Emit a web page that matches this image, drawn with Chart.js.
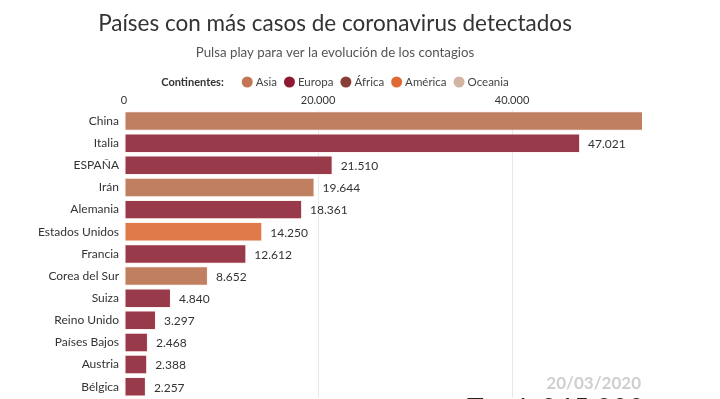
<!DOCTYPE html>
<html>
<head>
<meta charset="utf-8">
<script src="https://cdn.jsdelivr.net/npm/chart.js@4/dist/chart.umd.min.js"></script>
<style>
  html, body { margin: 0; padding: 0; background: #fff; overflow: hidden; }
  #wrap { width: 720px; height: 399px; position: relative; overflow: hidden; }
</style>
</head>
<body>
<div id="wrap"><canvas id="c" width="720" height="410"></canvas></div>
<script>
const countries = ["China", "Italia", "ESPAÑA", "Irán", "Alemania", "Estados Unidos", "Francia", "Corea del Sur", "Suiza", "Reino Unido", "Países Bajos", "Austria", "Bélgica"];
const cases = [80967, 47021, 21510, 19644, 18361, 14250, 12612, 8652, 4840, 3297, 2468, 2388, 2257];
const continentOf = ["Asia", "Europa", "Europa", "Asia", "Europa", "América", "Europa", "Asia", "Europa", "Europa", "Europa", "Europa", "Europa"];
const continents = ["Asia", "Europa", "África", "América", "Oceania"];
const legendColors = ["#c27655", "#8c1a30", "#8a3f36", "#e06a35", "#d2b4a3"];
const barColors = { "Asia": "#c17f62", "Europa": "#993a4a", "África": "#8e4a40", "América": "#e07a4a", "Oceania": "#d2b4a3" };
const xTicks = [0, 20000, 40000];
const titleText = "Países con más casos de coronavirus detectados";
const subtitleText = "Pulsa play para ver la evolución de los contagios";
const dateText = "20/03/2020";
const totalText = "Total: 265.200";

const FONT = "Lato, 'Liberation Sans', sans-serif";
function fmt(n) { return String(Math.round(n)).replace(/\B(?=(\d{3})+(?!\d))/g, "."); }

const headerPlugin = {
  id: 'header',
  afterDraw(chart) {
    const ctx = chart.ctx;
    const cx = 335;
    ctx.save();
    ctx.textAlign = 'center';
    ctx.textBaseline = 'alphabetic';
    ctx.fillStyle = '#333';
    ctx.font = "22.5px " + FONT;
    ctx.fillText(titleText, cx, 31);
    ctx.fillStyle = '#555';
    ctx.font = "13.3px " + FONT;
    ctx.fillText(subtitleText, cx, 57);

    // legend
    ctx.font = "bold 11px " + FONT;
    const lab = "Continentes:";
    ctx.textAlign = 'left';
    ctx.textBaseline = 'middle';
    const r = 5.5;
    let widths = [ctx.measureText(lab).width];
    ctx.font = "11.5px " + FONT;
    continents.forEach(c => widths.push(ctx.measureText(c).width));
    let total = widths[0] + 18;
    continents.forEach((c, i) => { total += 2 * r + 3 + widths[i + 1] + (i < continents.length - 1 ? 7 : 0); });
    let x = cx - total / 2;
    const ly = 82;
    ctx.font = "bold 11px " + FONT;
    ctx.fillStyle = '#333';
    ctx.fillText(lab, x, ly);
    x += widths[0] + 18;
    ctx.font = "11.5px " + FONT;
    continents.forEach((c, i) => {
      ctx.beginPath();
      ctx.fillStyle = legendColors[i];
      ctx.arc(x + r, ly, r, 0, Math.PI * 2);
      ctx.fill();
      x += 2 * r + 3;
      ctx.fillStyle = '#444';
      ctx.fillText(c, x, ly);
      x += widths[i + 1] + 7;
    });

    // value labels
    const meta = chart.getDatasetMeta(0);
    ctx.font = "12px " + FONT;
    ctx.fillStyle = '#333';
    ctx.textAlign = 'left';
    ctx.textBaseline = 'middle';
    meta.data.forEach((bar, i) => {
      if (cases[i] > chart.scales.x.max) return;
      ctx.fillText(fmt(cases[i]), bar.x + 8, bar.y + 1);
    });

    // date and total
    ctx.textAlign = 'right';
    ctx.textBaseline = 'alphabetic';
    ctx.font = "bold 17px " + FONT;
    ctx.fillStyle = '#cfcfcf';
    ctx.fillText(dateText, 641, 389);
    ctx.textAlign = 'left';
    ctx.font = "28px " + FONT;
    ctx.fillStyle = '#222';
    ctx.fillText(totalText, 467, 419);
    ctx.restore();
  }
};

new Chart(document.getElementById('c'), {
  type: 'bar',
  data: {
    labels: countries,
    datasets: [{
      data: cases,
      backgroundColor: continentOf.map(c => barColors[c]),
      borderColor: 'rgba(255,235,230,0.6)',
      borderWidth: 1,
      borderSkipped: false,
      barPercentage: 0.88,
      categoryPercentage: 1.0
    }]
  },
  options: {
    indexAxis: 'y',
    responsive: false,
    animation: false,
    events: [],
    layout: { padding: { top: 86, right: 78, left: 0, bottom: 0 } },
    plugins: { legend: { display: false }, tooltip: { enabled: false } },
    scales: {
      x: {
        position: 'top',
        min: 0,
        max: 53400,
        z: 1,
        afterBuildTicks(scale) { scale.ticks = xTicks.map(v => ({ value: v })); },
        afterFit(scale) { scale.height = 24; },
        border: { display: false },
        grid: {
          color: ctx => (ctx.tick && ctx.tick.value === 0) ? 'rgba(0,0,0,0)' : 'rgba(0,0,0,0.09)',
          drawTicks: false,
          lineWidth: 1
        },
        ticks: {
          callback: v => fmt(v),
          color: '#333',
          font: { family: FONT, size: 11 },
          padding: 3,
          maxRotation: 0
        }
      },
      y: {
        afterFit(scale) { scale.width = 124; },
        border: { display: false },
        grid: { display: false, drawTicks: false },
        ticks: {
          color: '#333',
          font: { family: FONT, size: 12 },
          padding: 5
        }
      }
    }
  },
  plugins: [headerPlugin]
});
</script>
</body>
</html>
